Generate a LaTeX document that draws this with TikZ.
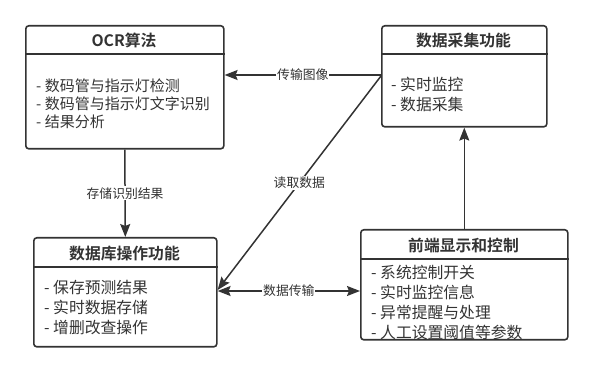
\documentclass[tikz,border=0pt]{standalone}
\usepackage{fontspec}
\setmainfont{Noto Sans CJK SC}[BoldFont={Noto Sans CJK SC Bold}]
\usetikzlibrary{arrows.meta,positioning,calc}
\definecolor{cL}{HTML}{333333}
\definecolor{cT}{HTML}{333333}
\tikzset{
  mod/.style={draw=cL,line width=1.6pt,rounded corners=3pt,anchor=north west,inner sep=0pt},
  head/.style={font=\bfseries\fontsize{15.8}{18}\selectfont,text=cT},
  item/.style={anchor=base west,inner sep=0pt,font=\fontsize{15.8}{18}\selectfont,text=cT},
  flow/.style={-{Stealth[length=13pt,width=10pt,inset=2pt]},line width=1.5pt,cL},
  tag/.style={fill=white,inner sep=1pt,font=\fontsize{12.8}{15}\selectfont,text=cT},
}

\begin{document}
\begin{tikzpicture}[x=1pt,y=-1pt]
  \useasboundingbox (0,0) rectangle (592,371);
  % modules
  \node[mod,minimum width=198pt,minimum height=123pt] (ocr) at (25,25){};
  \node[mod,minimum width=165pt,minimum height=101pt] (data) at (381,25){};
  \node[mod,minimum width=183pt,minimum height=109pt] (db) at (33,237){};
  \node[mod,minimum width=207pt,minimum height=110pt] (front) at (360,229){};
  \draw[cL,line width=1.6pt] (ocr.west |- 0,54) -- (ocr.east |- 0,54);
  \draw[cL,line width=1.6pt] (data.west |- 0,54) -- (data.east |- 0,54);
  \draw[cL,line width=1.6pt] (db.west |- 0,267) -- (db.east |- 0,267);
  \draw[cL,line width=1.6pt] (front.west |- 0,259) -- (front.east |- 0,259);

  % titles
  \node[head] (ocrH) at (124,40) {OCR算法};
  \node[head] (dataH) at (463.5,40) {数据采集功能};
  \node[head] (dbH) at (124.5,253) {数据库操作功能};
  \node[head] (frontH) at (463.5,245) {前端显示和控制};

  % items
  \foreach \t [count=\i] in {数码管与指示灯检测,数码管与指示灯文字识别,结果分析}
    \node[item,font=\fontsize{15}{17}\selectfont] (ocr\i) at (36,74+18*\i) {- \t};
  \foreach \t [count=\i] in {实时监控,数据采集}
    \node[item] (data\i) at (391,71+20*\i) {- \t};
  \foreach \t [count=\i] in {保存预测结果,实时数据存储,增删改查操作}
    \node[item] (db\i) at (44,274+20*\i) {- \t};
  \foreach \t [count=\i] in {系统控制开关,实时监控信息,异常提醒与处理,人工设置阈值等参数}
    \node[item] (front\i) at (371,259+20*\i) {- \t};

  % connectors
  \draw[flow] (data.west |- 0,75) -- (ocr.east |- 0,75) node[tag,midway] (l1) {传输图像};
  \draw[flow] (data.west |- 0,76) -- (db.east |- 0,290) node[tag,midway] (l2) {读取数据};
  \draw[flow] (ocr.south) -- (db.north) node[tag,midway] (l3) {存储识别结果};
  \draw[flow,{Stealth[length=13pt,width=10pt,inset=2pt]}-{Stealth[length=13pt,width=10pt,inset=2pt]}]
    (db.east |- 0,291) -- (front.west |- 0,291) node[tag,midway] (l4) {数据传输};
  \draw[flow] (front.north) -- (data.south);
\end{tikzpicture}
\end{document}
